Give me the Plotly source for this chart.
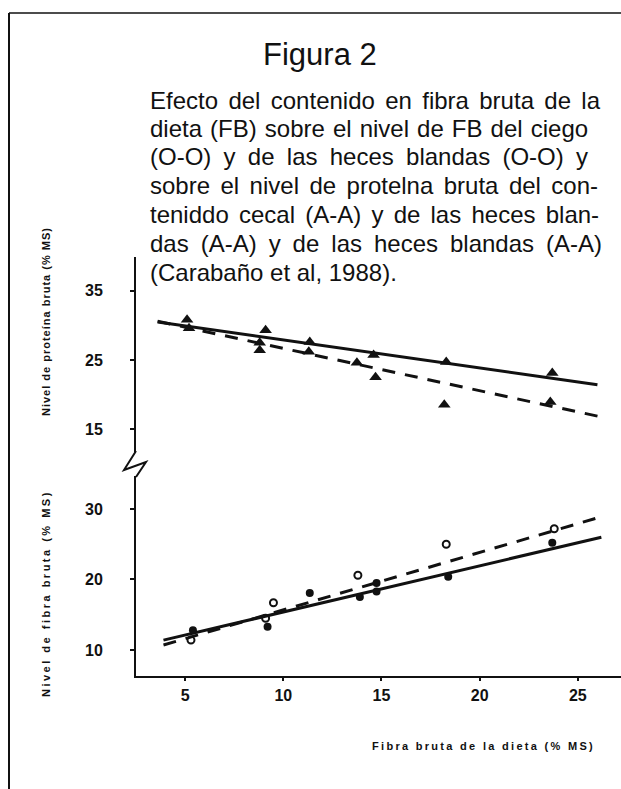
import plotly.graph_objects as go

W, H = 621, 789

# ---------------- data ----------------
# Upper panel: crude protein level (% MS) vs dietary crude fibre (% MS)
prot_cecal_x = [5.1, 9.1, 11.35, 14.6, 18.3, 23.7]
prot_cecal_y = [30.8, 29.3, 27.6, 25.7, 24.7, 23.1]
prot_heces_x = [5.2, 8.8, 8.8, 11.3, 13.75, 14.7, 18.2, 23.6]
prot_heces_y = [29.6, 27.5, 26.4, 26.2, 24.6, 22.5, 18.5, 18.9]
prot_fit_cecal_x = [3.6, 26.0]
prot_fit_cecal_y = [30.5, 21.4]
prot_fit_heces_x = [3.6, 26.1]
prot_fit_heces_y = [30.6, 16.8]

# Lower panel: crude fibre level (% MS)
fib_cecal_x = [5.4, 9.2, 11.35, 13.9, 14.75, 14.75, 18.4, 23.7]
fib_cecal_y = [12.8, 13.3, 18.1, 17.5, 19.5, 18.3, 20.4, 25.2]
fib_heces_x = [5.3, 9.1, 9.5, 13.8, 18.3, 23.8]
fib_heces_y = [11.4, 14.5, 16.7, 20.6, 25.0, 27.2]
fib_fit_cecal_x = [3.9, 26.2]
fib_fit_cecal_y = [11.4, 26.0]
fib_fit_heces_x = [3.9, 26.2]
fib_fit_heces_y = [10.7, 28.9]

x_ticks = [5, 10, 15, 20, 25]
prot_ticks = [15, 25, 35]
fib_ticks = [10, 20, 30]

title_text = "Figura 2"
caption_lines = [
    "Efecto del contenido en fibra bruta de la",
    "dieta (FB) sobre el nivel de FB del ciego",
    "(O-O) y de las heces blandas (O-O) y",
    "sobre el nivel de protelna bruta del con-",
    "teniddo cecal (A-A) y de las heces blan-",
    "das (A-A) y de las heces blandas (A-A)",
    "(Carabaño et al, 1988).",
]
ylabel_prot = "Nivel de proteína bruta (% MS)"
ylabel_fib = "Nivel de fibra bruta (% MS)"
xlabel = "Fibra bruta de la dieta (% MS)"

# ---------------- helpers ----------------
def px(x):
    return x / W

def py(y):
    return 1 - y / H

INK = "#111111"
FONT = "Liberation Sans, Arial, sans-serif"

# Arial / Liberation Sans advance widths (1/1000 em) for justification
AW = {" ": 278, "(": 333, ")": 333, "-": 333, ",": 278, ".": 278,
      "A": 667, "B": 667, "C": 722, "E": 667, "F": 611, "O": 778,
      "a": 556, "b": 556, "c": 500, "d": 556, "e": 556, "f": 278, "g": 556,
      "h": 556, "i": 222, "l": 222, "m": 833, "n": 556, "ñ": 556, "o": 556,
      "p": 556, "r": 333, "s": 500, "t": 278, "u": 556, "v": 500, "y": 500}

def text_width(s, size):
    return sum(AW.get(c, 556) for c in s) * size / 1000.0

CAP_SIZE = 24
CAP_LEFT = 148
cap_right = [598, 586, 586, 596, 597, 600, None]

fig = go.Figure()

# upper panel
fig.add_trace(go.Scatter(x=prot_fit_cecal_x, y=prot_fit_cecal_y, mode="lines",
                         line=dict(color=INK, width=3), xaxis="x", yaxis="y"))
fig.add_trace(go.Scatter(x=prot_fit_heces_x, y=prot_fit_heces_y, mode="lines",
                         line=dict(color=INK, width=3, dash="13px,10px"), xaxis="x", yaxis="y"))
fig.add_trace(go.Scatter(x=prot_cecal_x, y=prot_cecal_y, mode="markers",
                         marker=dict(symbol="triangle-up", size=11, color=INK), xaxis="x", yaxis="y"))
fig.add_trace(go.Scatter(x=prot_heces_x, y=prot_heces_y, mode="markers",
                         marker=dict(symbol="triangle-up", size=11, color=INK), xaxis="x", yaxis="y"))

# lower panel
fig.add_trace(go.Scatter(x=fib_fit_cecal_x, y=fib_fit_cecal_y, mode="lines",
                         line=dict(color=INK, width=3), xaxis="x", yaxis="y2"))
fig.add_trace(go.Scatter(x=fib_fit_heces_x, y=fib_fit_heces_y, mode="lines",
                         line=dict(color=INK, width=3, dash="13px,10px"), xaxis="x", yaxis="y2"))
fig.add_trace(go.Scatter(x=fib_cecal_x, y=fib_cecal_y, mode="markers",
                         marker=dict(symbol="circle", size=8, color=INK), xaxis="x", yaxis="y2"))
fig.add_trace(go.Scatter(x=fib_heces_x, y=fib_heces_y, mode="markers",
                         marker=dict(symbol="circle-open", size=7, color=INK, line=dict(width=2)),
                         xaxis="x", yaxis="y2"))

tickfont = dict(family=FONT, size=16, color=INK, weight="bold")

fig.update_layout(
    width=W, height=H,
    margin=dict(l=0, r=0, t=0, b=0),
    paper_bgcolor="white", plot_bgcolor="white",
    showlegend=False,
    xaxis=dict(domain=[px(136), 1], range=[2.5, 27.2], anchor="y2",
               showline=True, linecolor=INK, linewidth=2, showgrid=False, zeroline=False,
               ticks="outside", ticklen=3, tickwidth=2, tickcolor=INK,
               tickvals=x_ticks, ticktext=[str(v) for v in x_ticks],
               tickfont=tickfont, ticklabelstandoff=1),
    yaxis=dict(domain=[py(452), py(257)], range=[11.67, 39.9], anchor="x",
               showline=True, linecolor=INK, linewidth=2, showgrid=False, zeroline=False,
               ticks="outside", ticklen=4, tickwidth=2, tickcolor=INK,
               tickvals=prot_ticks, tickfont=tickfont, ticklabelstandoff=24),
    yaxis2=dict(domain=[py(676), py(476)], range=[6.31, 34.68], anchor="x",
                showline=True, linecolor=INK, linewidth=2, showgrid=False, zeroline=False,
                ticks="outside", ticklen=4, tickwidth=2, tickcolor=INK,
                tickvals=fib_ticks, tickfont=tickfont, ticklabelstandoff=24),
)

annotations = []
annotations.append(dict(text=title_text, x=px(320), y=py(55), xref="paper", yref="paper",
                        showarrow=False, xanchor="center", yanchor="middle",
                        font=dict(family=FONT, size=31, color=INK)))
line_y = [100, 128.5, 157, 185.5, 214.5, 243, 272]
for t, yy, right in zip(caption_lines, line_y, cap_right):
    if right is not None:
        nat = text_width(t, CAP_SIZE)
        nsp = t.count(" ")
        ws = max(0.0, (right - CAP_LEFT - nat) / nsp)
        txt = "<span style='word-spacing:{:.2f}px'>{}</span>".format(ws, t)
    else:
        txt = t
    annotations.append(dict(text=txt, x=px(CAP_LEFT), y=py(yy), xref="paper", yref="paper",
                            showarrow=False, xanchor="left", yanchor="middle",
                            font=dict(family=FONT, size=CAP_SIZE, color=INK)))
annotations.append(dict(text="<span style='letter-spacing:1px'>{}</span>".format(ylabel_prot),
                        x=px(46), y=py(322), xref="paper", yref="paper",
                        showarrow=False, textangle=-90, xanchor="center", yanchor="middle",
                        font=dict(family=FONT, size=11, color=INK, weight="bold")))
annotations.append(dict(text="<span style='letter-spacing:2.5px'>{}</span>".format(ylabel_fib),
                        x=px(46), y=py(594), xref="paper", yref="paper",
                        showarrow=False, textangle=-90, xanchor="center", yanchor="middle",
                        font=dict(family=FONT, size=11, color=INK, weight="bold")))
annotations.append(dict(text="<span style='letter-spacing:2.3px'>{}</span>".format(xlabel),
                        x=px(483), y=py(746), xref="paper", yref="paper",
                        showarrow=False, xanchor="center", yanchor="middle",
                        font=dict(family=FONT, size=11, color=INK, weight="bold")))
fig.update_layout(annotations=annotations)

shapes = []
# page frame
shapes.append(dict(type="line", xref="paper", yref="paper", x0=px(9), x1=px(9), y0=py(13), y1=0,
                   line=dict(color=INK, width=2)))
shapes.append(dict(type="line", xref="paper", yref="paper", x0=px(9), x1=1, y0=py(13), y1=py(13),
                   line=dict(color=INK, width=1.5)))
# axis break squiggle
shapes.append(dict(type="path", xref="paper", yref="paper",
                   path="M {} {} L {} {} L {} {} L {} {}".format(
                       px(136), py(451), px(124), py(470), px(146), py(462), px(136), py(477)),
                   line=dict(color=INK, width=2)))
fig.update_layout(shapes=shapes)

fig.write_html("out.html", config={"displayModeBar": False},
               post_script="document.body.style.margin='0';")
